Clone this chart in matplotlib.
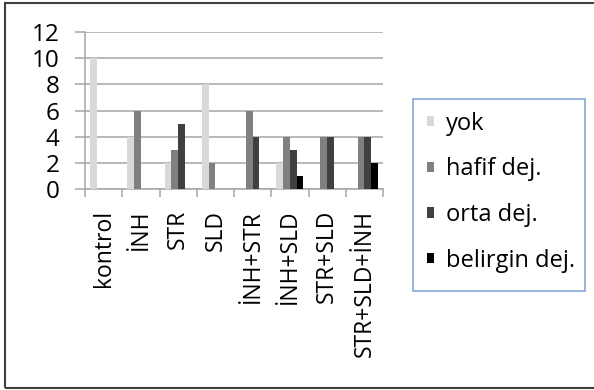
import numpy as np
import matplotlib
matplotlib.use("Agg")
import matplotlib.pyplot as plt
from matplotlib.patches import Rectangle

plt.rcParams["font.family"] = ["Open Sans", "DejaVu Sans"]

# Treatment groups and counts per degeneration grade
groups = ["kontrol", "İNH", "STR", "SLD", "İNH+STR", "İNH+SLD", "STR+SLD", "STR+SLD+İNH"]
series_names = ["yok", "hafif dej.", "orta dej.", "belirgin dej."]
yok = [10, 4, 2, 8, 0, 2, 0, 0]
hafif = [0, 6, 3, 2, 6, 4, 4, 4]
orta = [0, 0, 5, 0, 4, 3, 4, 4]
belirgin = [0, 0, 0, 0, 0, 1, 0, 2]
y_ticks = [0, 2, 4, 6, 8, 10, 12]

colors = ["#d9d9d9", "#808080", "#404040", "#000000"]
grid_color = "#a6a6a6"

W, H = 594, 390
fig = plt.figure(figsize=(W / 100, H / 100), dpi=100)


def fx(px):
    return px / W


def fy(py):
    return 1 - py / H


# outer chart border
fig.patches.append(Rectangle((fx(4.5), fy(388)), 1.2, (388 - 3) / H,
                             transform=fig.transFigure, fill=False,
                             edgecolor="#404040", linewidth=1.5, zorder=10))

left, right, top, bottom = 85, 383, 32, 189
ax = fig.add_axes([fx(left), fy(bottom), (right - left) / W, (bottom - top) / H])

x = np.arange(len(groups))
n = len(series_names)
w = 1 / 5.5
for i, (vals, name, c) in enumerate(zip([yok, hafif, orta, belirgin], series_names, colors)):
    ax.bar(x + (i - (n - 1) / 2) * w, vals, width=w, color=c, label=name, zorder=3)

ax.set_xlim(-0.5, len(groups) - 0.5)
ax.set_ylim(0, 12)
ax.set_yticks(y_ticks)
ax.yaxis.grid(True, color=grid_color, linewidth=1.1, zorder=0)
ax.set_axisbelow(True)

ax.set_xticks(x)
ax.set_xticklabels(groups, rotation=90, fontsize=16.5)
ax.set_xticks(np.arange(-0.5, len(groups)), minor=True)
ax.tick_params(axis="x", which="major", length=0, pad=15)
ax.tick_params(axis="x", which="minor", length=6, width=1.1, color=grid_color, direction="out")
ax.tick_params(axis="y", length=7.5, width=1.1, color=grid_color, pad=11, labelsize=17.5)

for s in ["top", "right"]:
    ax.spines[s].set_visible(False)
for s in ["left", "bottom"]:
    ax.spines[s].set_color(grid_color)
    ax.spines[s].set_linewidth(1.1)

# legend box and entries
fig.patches.append(Rectangle((fx(413), fy(291)), (585 - 413) / W, (291 - 99) / H,
                             transform=fig.transFigure, fill=False,
                             edgecolor="#7b9fd4", linewidth=1.1, zorder=5))
leg = fig.legend(loc="upper left", bbox_to_anchor=(fx(427), fy(111.5)),
                 bbox_transform=fig.transFigure, fontsize=17, frameon=False,
                 handlelength=0.3, handleheight=0.3,
                 handletextpad=0.5, labelspacing=0.92, borderpad=0,
                 borderaxespad=0)

fig.savefig("out.png", dpi=100)
